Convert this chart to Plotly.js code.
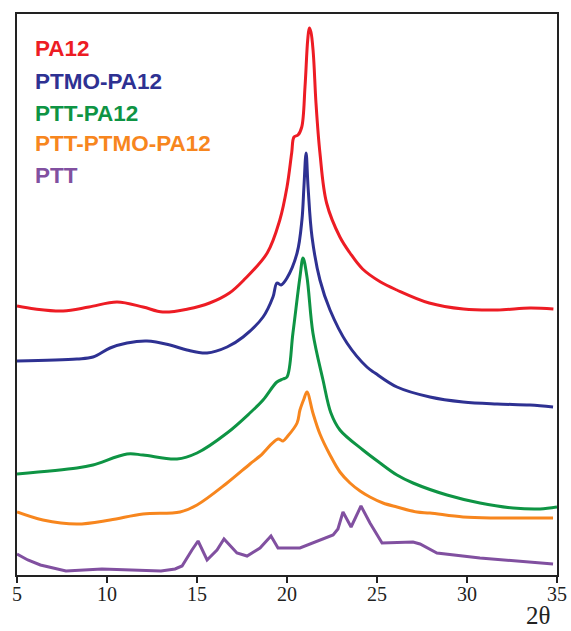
<!DOCTYPE html>
<html>
<head>
<meta charset="utf-8">
<script src="https://cdn.plot.ly/plotly-3.0.1.min.js"></script>
<style>html,body{margin:0;padding:0;background:#fff;}#chart{width:571px;height:631px;}</style>
</head>
<body>
<div id="chart"></div>
<script>
// Series names and colours
const seriesNames = ["PA12", "PTMO-PA12", "PTT-PA12", "PTT-PTMO-PA12", "PTT"];
const seriesColors = ["#ED1C24", "#2E3192", "#0E9444", "#F7861E", "#8150A0"];

// Stacked XRD patterns (2θ, offset intensity a.u.)
const pa12X = [5, 6.0, 7.56, 9.0, 10.56, 12.0, 13.1, 14.5, 15.7, 16.8, 17.6, 18.9, 19.6, 20.0, 20.26, 20.39, 20.61, 20.82, 21.0, 21.15, 21.24, 21.33, 21.46, 21.61, 21.83, 22.2, 22.94, 23.5, 24.2, 25.2, 26.1, 27.9, 29.8, 31.7, 33.5, 34.8];
const pa12Y = [269, 266, 264, 268, 273, 268, 263, 266, 272, 282, 295, 322, 355, 388, 422, 438, 440, 448, 488, 535, 547, 543, 522, 472, 422, 372, 338, 322, 306, 293, 285, 272, 266, 265, 267, 266];

const ptmoPa12X = [5, 8.33, 9.22, 10.17, 11.11, 12.22, 13.5, 14.44, 15.56, 16.67, 17.56, 18.67, 19.22, 19.44, 19.67, 20.0, 20.56, 20.83, 20.94, 21.06, 21.17, 21.39, 21.83, 22.39, 23.33, 24.44, 24.89, 26.11, 27.94, 29.78, 31.67, 33.5, 34.78];
const ptmoPa12Y = [214, 216, 218, 227, 232, 234, 230, 225, 222, 228, 238, 258, 278, 292, 290, 297, 322, 355, 388, 422, 388, 338, 295, 265, 232, 208, 202, 188, 178, 173, 171, 170, 168];

const pttPa12X = [5, 8.33, 9.22, 11.11, 12.0, 13.89, 15.0, 16.67, 17.94, 18.67, 19.44, 19.78, 20.0, 20.33, 20.72, 20.89, 21.11, 21.44, 22.0, 22.44, 22.94, 24.22, 25.17, 26.11, 27.0, 28.89, 30.72, 32.56, 34.06, 35.0];
const pttPa12Y = [101, 107, 110, 121, 120, 116, 122, 142, 162, 175, 193, 196, 198, 242, 298, 317, 298, 242, 195, 162, 145, 125, 112, 100, 92, 80, 72, 67, 66, 68];

const pttPtmoPa12X = [5, 6.44, 8.33, 10.17, 12.0, 14.06, 15.0, 16.67, 17.94, 18.5, 19.5, 19.78, 20.0, 20.56, 20.72, 20.94, 21.11, 21.44, 21.83, 22.39, 22.94, 23.5, 24.06, 24.61, 25.33, 26.11, 27.22, 27.94, 29.78, 31.67, 34.78];
const pttPtmoPa12Y = [63, 55, 51, 55, 61, 63, 70, 92, 111, 119, 136, 134, 138, 152, 165, 176, 183, 162, 141, 120, 103, 92, 84, 78, 72, 68, 63, 62, 58, 57, 57];

const pttX = [5, 5.6, 6.3, 7.0, 7.72, 9.72, 11.83, 13.0, 13.78, 14.17, 14.72, 15.06, 15.56, 16.11, 16.5, 17.22, 17.78, 18.5, 19.11, 19.5, 20.72, 21.44, 22.0, 22.56, 22.83, 23.11, 23.56, 24.11, 24.61, 25.28, 27.0, 27.39, 28.33, 30.72, 34.78];
const pttY = [21, 15, 10, 7, 4, 6, 5, 4, 6, 9, 25, 34, 15, 25, 36, 22, 19, 27, 39, 27, 27, 32, 36, 40, 46, 63, 48, 69, 52, 32, 33, 31, 22, 17, 11];

const tickVals = [5, 10, 15, 20, 25, 30, 35];
const tickText = ["5", "10", "15", "20", "25", "30", "35"];
const xLabel = "2θ";

const xs = [pa12X, ptmoPa12X, pttPa12X, pttPtmoPa12X, pttX];
const ys = [pa12Y, ptmoPa12Y, pttPa12Y, pttPtmoPa12Y, pttY];

const traces = seriesNames.map((n, i) => ({
  x: xs[i], y: ys[i], name: n, type: "scatter", mode: "lines",
  line: {color: seriesColors[i], width: 3, shape: i === 4 ? "linear" : "spline", smoothing: 1.0},
  hoverinfo: "skip"
}));

const legendY = [0.939, 0.879, 0.8235, 0.769, 0.713];
const annotations = seriesNames.map((n, i) => ({
  text: "<b>" + n + "</b>", xref: "paper", yref: "paper", x: 0.03, y: legendY[i],
  xanchor: "left", yanchor: "middle", showarrow: false,
  font: {family: "Liberation Sans, Arial, sans-serif", size: 22.5, color: seriesColors[i]}
}));
annotations.push({
  text: xLabel, xref: "paper", yref: "paper", x: 0.99, y: -0.0998, xanchor: "right", yanchor: "bottom",
  showarrow: false, font: {family: "Liberation Serif, Times New Roman, serif", size: 25, color: "#222"}
});

const layout = {
  width: 571, height: 631,
  margin: {l: 17, r: 14, t: 14, b: 56},
  paper_bgcolor: "#fff", plot_bgcolor: "#fff",
  showlegend: false,
  xaxis: {
    range: [5, 35], tickvals: tickVals, ticktext: tickText,
    ticks: "outside", ticklen: 6, tickwidth: 1.5, tickcolor: "#222",
    ticklabelstandoff: -6,
    showline: true, linecolor: "#222", linewidth: 2, mirror: true,
    showgrid: false, zeroline: false,
    tickfont: {family: "Liberation Serif, Times New Roman, serif", size: 20, color: "#222"}
  },
  yaxis: {
    range: [0, 561], showticklabels: false, ticks: "",
    showline: true, linecolor: "#222", linewidth: 2, mirror: true,
    showgrid: false, zeroline: false
  },
  annotations: annotations
};

Plotly.newPlot("chart", traces, layout, {staticPlot: true, displayModeBar: false});
</script>
</body>
</html>
